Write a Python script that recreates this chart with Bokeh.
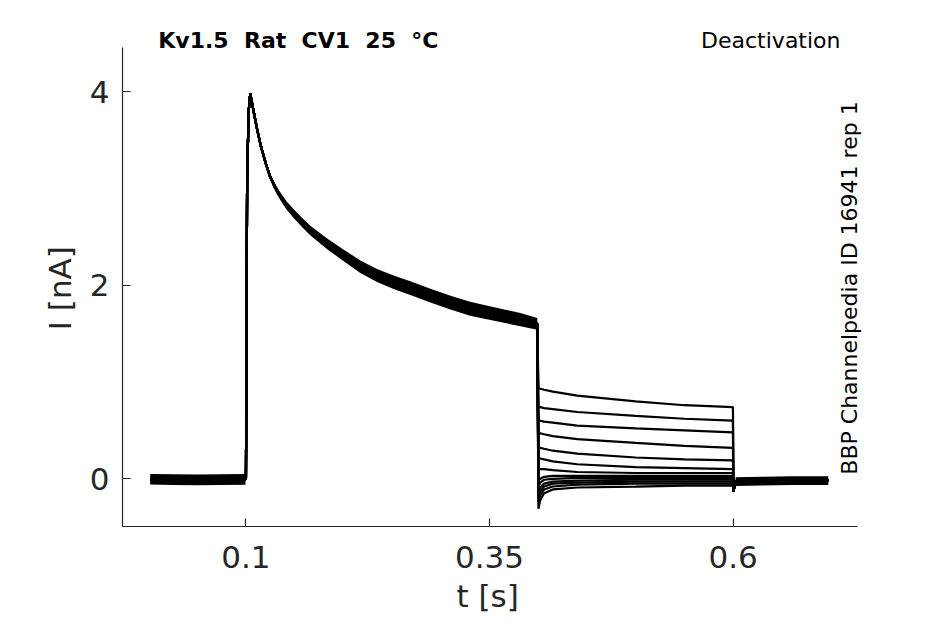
import math
from bokeh.plotting import figure
from bokeh.models import Label, Range1d, FixedTicker, LinearAxis
from bokeh.embed import file_html
from bokeh.resources import INLINE

# ---------------- data ----------------
# holding period before the step (noise band centre and half-width)
base_t = [0.0017, 0.025, 0.05, 0.075, 0.0995]
base_i = [-0.005, -0.008, -0.012, -0.008, -0.006]
base_spread = 0.055

# activating step (shared by all sweeps), centre of the bundle and half-width
act_t = [0.1000, 0.1006, 0.1012, 0.1028, 0.1044, 0.1080, 0.1113, 0.1150, 0.1200,
         0.1249, 0.1300, 0.1352, 0.1420, 0.1490, 0.1575, 0.1660, 0.1830, 0.2000,
         0.2174, 0.2345, 0.2515, 0.2687, 0.2900, 0.3100, 0.3300, 0.3560, 0.3816, 0.3990]
act_i = [0.00, 1.50, 3.10, 3.80, 3.98, 3.79, 3.62, 3.45, 3.27,
         3.12, 3.01, 2.92, 2.82, 2.74, 2.65, 2.565, 2.43, 2.31,
         2.19, 2.10, 2.03, 1.97, 1.89, 1.82, 1.756, 1.70, 1.644, 1.60]
act_spread = [0.0, 0.005, 0.01, 0.012, 0.015, 0.018, 0.02, 0.025, 0.03,
              0.035, 0.038, 0.04, 0.043, 0.045, 0.048, 0.05, 0.055, 0.06,
              0.065, 0.068, 0.07, 0.07, 0.072, 0.072, 0.072, 0.07, 0.068, 0.06]

# deactivating (tail) steps, one list per sweep
tail_t = [0.4002, 0.402, 0.406, 0.415, 0.44, 0.50, 0.55, 0.5998]
tails = [
    [0.93, 0.93, 0.92, 0.90, 0.86, 0.80, 0.76, 0.74],
    [0.74, 0.74, 0.73, 0.72, 0.69, 0.65, 0.62, 0.60],
    [0.60, 0.60, 0.59, 0.58, 0.55, 0.52, 0.50, 0.48],
    [0.47, 0.47, 0.46, 0.44, 0.41, 0.37, 0.34, 0.32],
    [0.32, 0.32, 0.31, 0.29, 0.26, 0.22, 0.20, 0.19],
    [0.22, 0.21, 0.20, 0.18, 0.15, 0.12, 0.11, 0.10],
    [0.11, 0.10, 0.10, 0.09, 0.07, 0.06, 0.06, 0.06],
    [-0.02, 0.00, 0.02, 0.03, 0.03, 0.03, 0.03, 0.03],
    [-0.08, -0.04, -0.01, 0.00, 0.01, 0.01, 0.01, 0.01],
    [-0.13, -0.09, -0.05, -0.03, -0.02, -0.01, -0.01, -0.01],
    [-0.18, -0.13, -0.08, -0.05, -0.04, -0.03, -0.03, -0.03],
    [-0.24, -0.17, -0.11, -0.08, -0.06, -0.05, -0.05, -0.05],
    [-0.31, -0.22, -0.15, -0.11, -0.09, -0.08, -0.07, -0.07],
]

# return to holding potential
spike_t = [0.6003]
spike_i = [-0.13]
post_t = [0.6025, 0.63, 0.66, 0.6977]
post_i = [-0.03, -0.025, -0.02, -0.018]
post_spread = 0.045

x_ticks = [0.1, 0.35, 0.6]
x_tick_labels = ["0.1", "0.35", "0.6"]
y_ticks = [0, 2, 4]
y_tick_labels = ["0", "2", "4"]
x_axis_bounds = (-0.0267, 0.7273)
y_axis_bounds = (-0.493, 4.456)
x_label, x_label_at = "t [s]", 0.348
y_label, y_label_at = "I [nA]", 1.97

title_left = "Kv1.5\u00a0\u00a0Rat\u00a0\u00a0CV1\u00a0\u00a025\u00a0\u00a0°C"
title_right = "Deactivation"
side_note = "BBP Channelpedia ID 16941 rep 1"

# ---------------- figure ----------------
FONT = "DejaVu Sans"
TXT = "#262626"
p = figure(frame_width=813, frame_height=526, output_backend="svg", toolbar_location=None,
           x_range=Range1d(-0.0267, 0.8077), y_range=Range1d(-0.493, 4.9415),
           min_border_left=122, min_border_right=0, min_border_top=0,
           min_border_bottom=10)
p.outline_line_color = None
p.grid.visible = False
p.background_fill_color = "white"
p.border_fill_color = "white"

# noise bands
p.varea(x=base_t, y1=[v - base_spread for v in base_i], y2=[v + base_spread for v in base_i],
        fill_color="black")
p.varea(x=act_t, y1=[v - s for v, s in zip(act_i, act_spread)],
        y2=[v + s for v, s in zip(act_i, act_spread)], fill_color="black")
p.varea(x=post_t, y1=[v - post_spread for v in post_i], y2=[v + post_spread for v in post_i],
        fill_color="black")

xs, ys = [], []
for tr in tails:
    xs.append(base_t + act_t + tail_t + spike_t + post_t)
    ys.append(base_i + act_i + tr + spike_i + post_i)
p.multi_line(xs=xs, ys=ys, line_color="black", line_width=2.2)

# main axes
for ax in (p.xaxis[0], p.yaxis[0]):
    ax.axis_line_color = TXT
    ax.axis_line_width = 1.2
    ax.major_tick_line_color = TXT
    ax.major_tick_line_width = 1.2
    ax.major_tick_in = 8
    ax.major_tick_out = 0
    ax.minor_tick_line_color = None
    ax.major_label_text_font = FONT
    ax.major_label_text_font_size = "31px"
    ax.major_label_text_color = TXT

p.xaxis.bounds = x_axis_bounds
p.yaxis.bounds = y_axis_bounds
p.xaxis.ticker = FixedTicker(ticks=x_ticks)
p.xaxis.major_label_overrides = dict(zip(x_ticks, x_tick_labels))
p.yaxis.ticker = FixedTicker(ticks=y_ticks)
p.yaxis.major_label_overrides = dict(zip(y_ticks, y_tick_labels))
p.xaxis.major_label_standoff = 19
p.yaxis.major_label_standoff = 13

# axis titles, centred on the drawn axis extent
def title_axis(at, text, **kw):
    return LinearAxis(ticker=FixedTicker(ticks=[at]), major_label_overrides={at: text},
                      axis_line_color=None, major_tick_line_color=None,
                      minor_tick_line_color=None, major_tick_in=0, major_tick_out=0,
                      major_label_text_font=FONT, major_label_text_font_size="31px",
                      major_label_text_color=TXT, **kw)

p.add_layout(title_axis(x_label_at, x_label, major_label_standoff=7), "below")
p.add_layout(title_axis(y_label_at, y_label, major_label_standoff=8,
                        major_label_orientation="vertical"), "left")

p.add_layout(Label(x=0.01, y=4.528, text=title_left, text_font=FONT, text_font_size="22px",
                   text_font_style="bold", text_color="black", text_align="left",
                   text_baseline="alphabetic"))
p.add_layout(Label(x=0.7102, y=4.528, text=title_right, text_font=FONT, text_font_size="22px",
                   text_color="black", text_align="right", text_baseline="alphabetic"))
p.add_layout(Label(x=0.7198, y=1.971, text=side_note, text_font=FONT, text_font_size="22px",
                   text_color="black", text_align="center", text_baseline="alphabetic",
                   angle=math.pi / 2))

open("out.html", "w").write(file_html(p, INLINE))
